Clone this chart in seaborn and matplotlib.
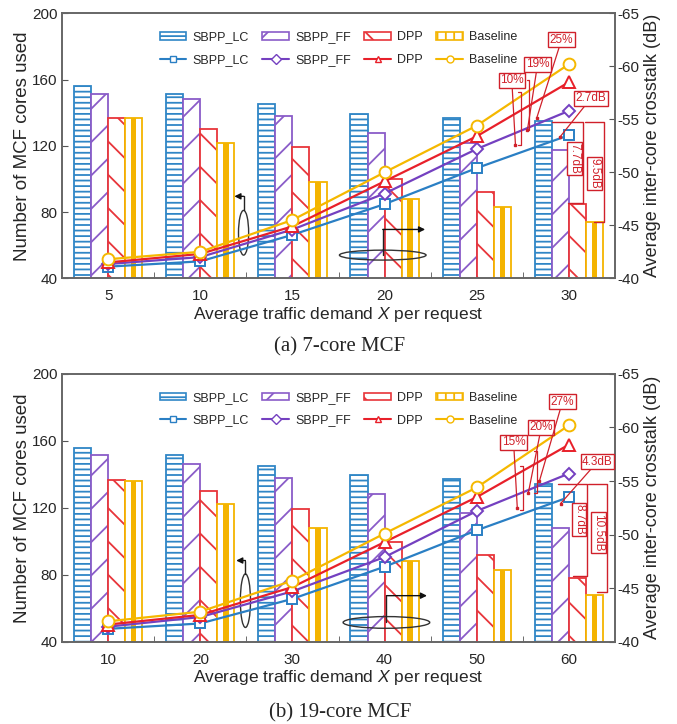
import seaborn as sns
import matplotlib.pyplot as plt
import matplotlib.patches as mpatches
from matplotlib.lines import Line2D
import numpy as np
import pandas as pd

"""
Two-panel figure: number of MCF cores used (bars, left axis) and average
inter-core crosstalk (lines, right axis) versus the average traffic demand.
"""

# ---- data ----
schemes = ['SBPP_LC', 'SBPP_FF', 'DPP', 'Baseline']

# (a) 7-core MCF
demand_7 = [5, 10, 15, 20, 25, 30]
cores_7_lc = [156, 151, 145, 139.5, 137, 135]
cores_7_ff = [151, 148, 138, 128, 122, 117.5]
cores_7_dpp = [137, 130, 119, 100, 92, 85]
cores_7_base = [137, 122, 98, 88, 83, 74]
xt_7_lc = [-41.1, -41.6, -44.1, -47.0, -50.4, -53.5]
xt_7_ff = [-41.35, -42.0, -44.6, -48.0, -52.2, -55.8]
xt_7_dpp = [-41.5, -42.3, -44.9, -49.15, -53.4, -58.5]
xt_7_base = [-41.8, -42.5, -45.5, -50.0, -54.4, -60.2]

# (b) 19-core MCF
demand_19 = [10, 20, 30, 40, 50, 60]
cores_19_lc = [156, 151.5, 145, 139.5, 137, 134.5]
cores_19_ff = [151.5, 146, 138, 128, 117, 108]
cores_19_dpp = [136.5, 130, 119, 99.5, 92, 78]
cores_19_base = [136, 122, 108, 88.5, 83, 68]
xt_19_lc = [-41.2, -41.7, -44.0, -47.0, -50.4, -53.5]
xt_19_ff = [-41.4, -42.3, -44.7, -47.9, -52.2, -55.7]
xt_19_dpp = [-41.6, -42.5, -45.1, -49.3, -53.5, -58.4]
xt_19_base = [-41.9, -42.8, -45.7, -50.1, -54.4, -60.2]

# labels of the improvement call-outs (text, box pos, leader end) in right-axis units
pct_7 = [('10%', (4.38, -58.7), (4.42, -52.6)), ('19%', (4.66, -60.2), (4.55, -54.0)),
         ('25%', (4.92, -62.5), (4.65, -55.1)), ('2.7dB', (5.24, -57.0), (4.90, -53.3))]
pct_19 = [('15%', (4.40, -58.6), (4.44, -52.5)), ('20%', (4.70, -60.0), (4.56, -53.9)),
          ('27%', (4.93, -62.4), (4.68, -55.0)), ('4.3dB', (5.31, -56.8), (4.91, -52.9))]
# short braces next to the % leaders: (x, y_low, y_high)
brace_7 = [(4.48, -52.6, -57.6), (4.57, -54.0, -58.7)]
brace_19 = [(4.50, -52.3, -56.4), (4.65, -53.9, -57.8)]
# bracket call-outs: text, x_left, x_right, y_top, y_bottom, text pos
bracket_7 = [('7.7dB', 4.82, 5.15, -54.7, -47.1, (5.06, -51.3)),
             ('9.5dB', 5.17, 5.38, -54.7, -45.3, (5.28, -49.9))]
bracket_19 = [('8.7dB', 4.88, 5.20, -54.7, -46.1, (5.11, -51.4)),
              ('10.5dB', 5.21, 5.41, -54.7, -44.6, (5.32, -50.2))]
# axis hint marks (ellipse centre, width, height, arrow start y, arrow end x) in left-axis units
hint_7 = [((1.47, 67.5), 0.11, 27, 81, 89.5, 1.37), ((2.98, 54), 0.94, 6, 54, 69.5, 3.44)]
hint_19 = [((1.49, 64.5), 0.11, 32, 80.5, 88.5, 1.39), ((3.02, 51.5), 0.94, 7, 51.5, 67.5, 3.46)]

bar_colors = ['#2f86c6', '#8a5cc8', '#e8353a', '#f4b400']
line_colors = ['#2a7fc4', '#7440c0', '#e8202a', '#f5b800']
hatches = ['---', '/', '\\', '']
markers = ['s', 'D', '^', 'o']
msizes = [7.5, 6, 8, 8.5]
red = '#d0202a'

sns.set_style('ticks')
plt.rcParams['font.family'] = ['Liberation Sans', 'DejaVu Sans']
plt.rcParams['axes.unicode_minus'] = False
plt.rcParams['hatch.linewidth'] = 1.3
plt.rcParams['mathtext.fontset'] = 'custom'
plt.rcParams['mathtext.it'] = 'Liberation Sans:italic'
plt.rcParams['mathtext.rm'] = 'Liberation Sans'


def draw_panel(ax, demand, cores, xt, pct, braces, brackets, hints):
    """Draws bars on ax, crosstalk lines on a twin axis, and all call-outs."""
    bar_df = pd.DataFrame({'demand': np.tile(demand, 4),
                           'cores': np.concatenate(cores),
                           'scheme': np.repeat(schemes, len(demand))})
    sns.barplot(data=bar_df, x='demand', y='cores', hue='scheme', hue_order=schemes,
                width=0.74, saturation=1, ax=ax, legend=False)

    # white bars with coloured hatch, like the original
    for cont, col, h in zip(ax.containers, bar_colors, hatches):
        for p in cont:
            p.set_facecolor('white')
            p.set_edgecolor(col)
            p.set_hatch(h)
            p.set_linewidth(1.3)
    # baseline bars get the thick yellow band in the middle
    base = ax.containers[3]
    ax.bar([p.get_x() + p.get_width() / 2 for p in base], [p.get_height() for p in base],
           width=base[0].get_width() * 0.32, color=bar_colors[3], linewidth=0)

    ax2 = ax.twinx()
    line_df = pd.DataFrame({'pos': np.tile(np.arange(len(demand)), 4),
                            'xt': np.concatenate(xt),
                            'scheme': np.repeat(schemes, len(demand))})
    sns.lineplot(data=line_df, x='pos', y='xt', hue='scheme', style='scheme',
                 hue_order=schemes, style_order=schemes, palette=line_colors,
                 markers=markers, dashes=False, ax=ax2, legend=False, lw=1.6)
    for ln, col, ms in zip(ax2.lines, line_colors, msizes):
        ln.set_markerfacecolor('white')
        ln.set_markeredgecolor(col)
        ln.set_markeredgewidth(1.4)
        ln.set_markersize(ms)

    # axes
    ax.set_xlim(-0.5, len(demand) - 0.5)
    ax.set_ylim(40, 200)
    ax.set_yticks([40, 80, 120, 160, 200])
    ax2.set_ylim(-40, -65)
    ax2.set_yticks([-40, -45, -50, -55, -60, -65])
    ax.set_xticks(range(len(demand)), labels=[str(d) for d in demand])
    ax.set_xticks(np.arange(0.5, len(demand) - 1), minor=True)
    ax.tick_params(axis='x', which='major', length=0, labelsize=11, pad=8)
    ax.tick_params(axis='x', which='minor', direction='in', length=4, color='#555555')
    ax.tick_params(axis='y', direction='in', length=4, labelsize=11, color='#555555', pad=3)
    ax2.tick_params(axis='y', direction='in', length=4, labelsize=11, color='#555555', pad=2)
    for a in (ax, ax2):
        for s in a.spines.values():
            s.set_visible(True)
            s.set_color('#666666')
            s.set_linewidth(1.2)
    ax.set_xlabel('Average traffic demand $X$ per request', fontsize=12.5, labelpad=1)
    ax.set_ylabel('Number of MCF cores used', fontsize=13.5, labelpad=1)
    ax2.set_ylabel('Average inter-core crosstalk (dB)', fontsize=13, labelpad=3)

    # legend: bars on the first row, lines on the second
    handles, labels = [], []
    for s, col, lcol, h, m in zip(schemes, bar_colors, line_colors, hatches, markers):
        handles.append(mpatches.Patch(facecolor='white', edgecolor=col, lw=1.2,
                                      hatch=h if h else '||'))
        handles.append(Line2D([], [], color=lcol, lw=1.5, marker=m, markersize=5,
                              mfc='white', mec=lcol))
        labels += [s, s]
    ax2.legend(handles, labels, ncol=4, loc='upper center', bbox_to_anchor=(0.5, 0.975),
               frameon=False, fontsize=9, handlelength=2.1, handleheight=0.6,
               handletextpad=0.5, columnspacing=1.1, labelspacing=0.85)

    # improvement call-outs
    box = dict(boxstyle='square,pad=0.12', fc='white', ec=red, lw=1)
    for txt, tpos, end in pct:
        ax2.annotate(txt, xy=end, xytext=tpos, fontsize=8.5, color=red, ha='center', va='center',
                     bbox=box, arrowprops=dict(arrowstyle='-', color=red, lw=0.9,
                                               shrinkA=0, shrinkB=0))
        ax2.plot(*end, marker='s', ms=2, color=red)
    for bx, y0, y1 in braces:
        ax2.plot([bx - 0.03, bx, bx, bx - 0.03], [y0, y0, y1, y1], color=red, lw=0.9)
    for txt, x0, x1, yt, yb, tpos in brackets:
        ax2.plot([x0, x1, x1, x0 + (x1 - x0) * 0.5], [yt, yt, yb, yb], color=red, lw=1)
        ax2.text(*tpos, txt, rotation=270, fontsize=8.5, color=red, ha='center', va='center',
                 bbox=box)

    # ellipse + arrow marks telling which axis the bars / lines belong to
    for (cx, cy), w, h, ys, ye, xe in hints:
        ax.add_patch(mpatches.Ellipse((cx, cy), w, h, fill=False, ec='#333333', lw=1, zorder=5))
        ax.plot([cx, cx], [ys, ye], color='#222222', lw=1, zorder=5)
        ax.annotate('', xy=(xe, ye), xytext=(cx, ye), zorder=5,
                    arrowprops=dict(arrowstyle='-|>', color='#111111', lw=1,
                                    mutation_scale=9, shrinkA=0, shrinkB=0))
    return ax2


fig = plt.figure(figsize=(6.77, 7.24), dpi=100)
ax_a = fig.add_axes([0.0916, 0.6156, 0.8168, 0.366])
ax_b = fig.add_axes([0.0916, 0.1137, 0.8168, 0.3698])

draw_panel(ax_a, demand_7, [cores_7_lc, cores_7_ff, cores_7_dpp, cores_7_base],
           [xt_7_lc, xt_7_ff, xt_7_dpp, xt_7_base], pct_7, brace_7, bracket_7, hint_7)
draw_panel(ax_b, demand_19, [cores_19_lc, cores_19_ff, cores_19_dpp, cores_19_base],
           [xt_19_lc, xt_19_ff, xt_19_dpp, xt_19_base], pct_19, brace_19, bracket_19, hint_19)

fig.text(0.502, 0.521, '(a) 7-core MCF', family='Liberation Serif', fontsize=15,
         ha='center', va='center')
fig.text(0.502, 0.016, '(b) 19-core MCF', family='Liberation Serif', fontsize=15,
         ha='center', va='center')

fig.savefig('out.png', dpi=100)
